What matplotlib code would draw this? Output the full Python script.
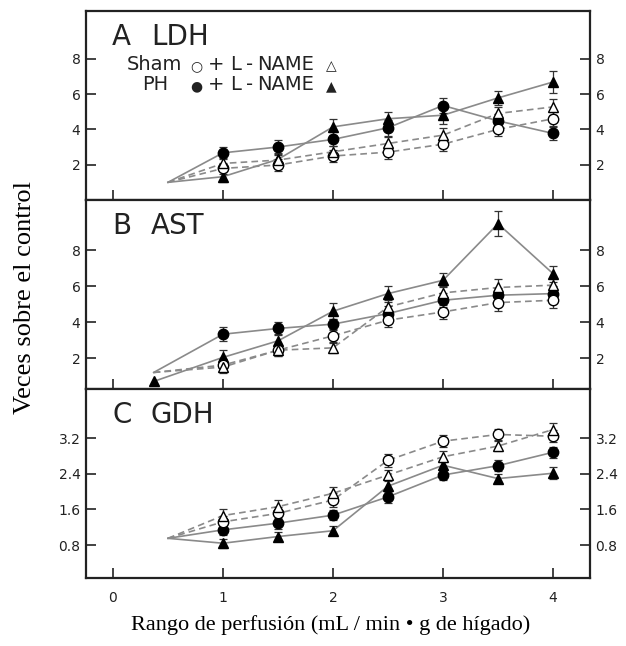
import numpy as np
import matplotlib.pyplot as plt

# ── DATA ─────────────────────────────────────────────────────
x_pts = [1, 1.5, 2, 2.5, 3, 3.5, 4]

# panel A: LDH
a_start = (0.5, [1.0, 1.0, 1.0, 1.0])
a_ph = [2.67, 3.0, 3.43, 4.09, 5.35, 4.48, 3.77]
a_ph_ln = [1.32, 2.3, 4.14, 4.6, 4.8, 5.78, 6.68]
a_sham = [1.79, 1.98, 2.49, 2.71, 3.16, 4.0, 4.6]
a_sham_ln = [2.07, 2.26, 2.73, 3.2, 3.67, 4.9, 5.27]
a_err_ph = [0.35, 0.4, 0.4, 0.45, 0.45, 0.4, 0.35]
a_err_ph_ln = [0.3, 0.35, 0.45, 0.4, 0.5, 0.4, 0.6]
a_err_sham = [0.3, 0.35, 0.35, 0.4, 0.4, 0.4, 0.4]
a_err_sham_ln = [0.3, 0.3, 0.35, 0.35, 0.4, 0.35, 0.45]

# panel B: AST
b_start = (0.37, [1.2, 0.7, 1.2, 1.2])
b_ph = [3.33, 3.65, 3.89, 4.48, 5.22, 5.5, 5.59]
b_ph_ln = [2.04, 2.96, 4.61, 5.59, 6.33, 9.48, 6.7]
b_sham = [1.61, 2.44, 3.24, 4.11, 4.57, 5.09, 5.22]
b_sham_ln = [1.5, 2.44, 2.57, 4.85, 5.63, 5.93, 6.06]
b_err_ph = [0.4, 0.35, 0.3, 0.4, 0.4, 0.4, 0.4]
b_err_ph_ln = [0.4, 0.4, 0.45, 0.45, 0.4, 0.7, 0.45]
b_err_sham = [0.35, 0.35, 0.4, 0.4, 0.4, 0.45, 0.45]
b_err_sham_ln = [0.35, 0.3, 0.3, 0.4, 0.4, 0.45, 0.4]

# panel C: GDH
c_start = (0.5, [0.95, 0.95, 0.95, 0.95])
c_ph = [1.14, 1.29, 1.47, 1.88, 2.37, 2.58, 2.88]
c_ph_ln = [0.84, 0.99, 1.12, 2.12, 2.59, 2.29, 2.41]
c_sham = [1.32, 1.51, 1.81, 2.70, 3.13, 3.28, 3.24]
c_sham_ln = [1.46, 1.66, 1.96, 2.37, 2.78, 3.02, 3.39]
c_err_ph = [0.12, 0.12, 0.12, 0.14, 0.12, 0.12, 0.12]
c_err_ph_ln = [0.1, 0.1, 0.1, 0.12, 0.12, 0.1, 0.14]
c_err_sham = [0.14, 0.14, 0.16, 0.14, 0.14, 0.12, 0.14]
c_err_sham_ln = [0.14, 0.14, 0.15, 0.12, 0.12, 0.12, 0.14]

panels = [
    (("A", "LDH"), a_start, [a_ph, a_ph_ln, a_sham, a_sham_ln],
     [a_err_ph, a_err_ph_ln, a_err_sham, a_err_sham_ln],
     [2, 4, 6, 8], ["2", "4", "6", "8"], (0, 10.7)),
    (("B", "AST"), b_start, [b_ph, b_ph_ln, b_sham, b_sham_ln],
     [b_err_ph, b_err_ph_ln, b_err_sham, b_err_sham_ln],
     [2, 4, 6, 8], ["2", "4", "6", "8"], (0.28, 10.8)),
    (("C", "GDH"), c_start, [c_ph, c_ph_ln, c_sham, c_sham_ln],
     [c_err_ph, c_err_ph_ln, c_err_sham, c_err_sham_ln],
     [0.8, 1.6, 2.4, 3.2], ["0.8", "1.6", "2.4", "3.2"], (0.06, 4.3)),
]

# order: PH (filled circle), PH+L-NAME (filled tri), Sham (open circle), Sham+L-NAME (open tri)
styles = [
    dict(ls="-", marker="o", mfc="black"),
    dict(ls="-", marker="^", mfc="black"),
    dict(ls="--", marker="o", mfc="white"),
    dict(ls="--", marker="^", mfc="white"),
]

line_col = "#8a8a8a"
ink = "#222222"
fig = plt.figure(figsize=(6.26, 6.46), dpi=100)

W = 626.0
H = 646.0


def px(x, y):
    # pixel position (from top-left) -> figure fraction
    return x / W, 1 - y / H


left, right = 86 / W, 590 / W
edges = [11, 200, 389, 578]

for i, (title, start, series, errs, yt, ytl, ylim) in enumerate(panels):
    top = 1 - edges[i] / H
    bot = 1 - edges[i + 1] / H
    ax = fig.add_axes([left, bot, right - left, top - bot])
    x0, y0s = start
    for s, (vals, e, st) in enumerate(zip(series, errs, styles)):
        xs = [x0] + x_pts
        ys = [y0s[s]] + vals
        if st["ls"] == "--":
            ax.plot(xs, ys, color=line_col, lw=1.2, ls="--", dashes=(4, 2.5), zorder=2)
        else:
            ax.plot(xs, ys, color=line_col, lw=1.2, ls="-", zorder=2)
        ax.errorbar(x_pts, vals, yerr=e, fmt="none", ecolor="#333333",
                    elinewidth=0.9, capsize=3, capthick=0.9, zorder=3)
        ax.plot(x_pts, vals, ls="none", marker=st["marker"], ms=7.5,
                mfc=st["mfc"], mec="black", mew=1.0, zorder=4)
    # lone starting triangle in panel B
    if i == 1:
        ax.plot([x0], [y0s[1]], ls="none", marker="^", ms=7, mfc="black",
                mec="black", zorder=4)

    ax.set_xlim(-0.245, 4.336)
    ax.set_ylim(*ylim)
    ax.set_xticks([0, 1, 2, 3, 4])
    ax.set_yticks(yt)
    ax.set_yticklabels(ytl)
    ax.tick_params(axis="y", direction="in", length=7, width=1.2,
                   left=True, right=True, labelleft=True, labelright=True,
                   labelsize=10, colors=ink, pad=4)
    ax.tick_params(axis="x", direction="in", length=7, width=1.2,
                   labelsize=10, colors=ink, pad=9)
    if i < 2:
        ax.tick_params(axis="x", labelbottom=False)
    for sp in ax.spines.values():
        sp.set_linewidth(1.6)
        sp.set_color(ink)

    # panel title, baseline ~34 px below the panel top
    base = edges[i] + 34
    fig.text(*px(112, base), title[0], fontsize=20, ha="left", va="baseline", color=ink)
    fig.text(*px(151, base), title[1], fontsize=20, ha="left", va="baseline", color=ink)

# legend text inside panel A
leg_rows = [
    (70, [(127, "Sham"), (190, "\u25CB"), (208, "+"), (230, "L"), (246, "-"), (257, "NAME"), (326, "\u25B3")]),
    (90, [(142, "PH"), (190, "\u25CF"), (208, "+"), (230, "L"), (246, "-"), (257, "NAME"), (326, "\u25B2")]),
]
for yb, parts in leg_rows:
    for xp, txt in parts:
        fs = 10 if txt in ("\u25CB", "\u25CF", "\u25B3", "\u25B2") else 14
        fig.text(*px(xp, yb), txt, fontsize=fs, ha="left", va="baseline", color=ink)

fig.text(*px(25, 298), "Veces sobre el control", rotation=90, fontsize=19,
         family="Liberation Serif", ha="center", va="center")
fig.text(*px(331, 625), "Rango de perfusión (mL / min \u2022 g de hígado)", fontsize=16,
         family="Liberation Serif", ha="center", va="center")

fig.savefig("out.png", dpi=100)
